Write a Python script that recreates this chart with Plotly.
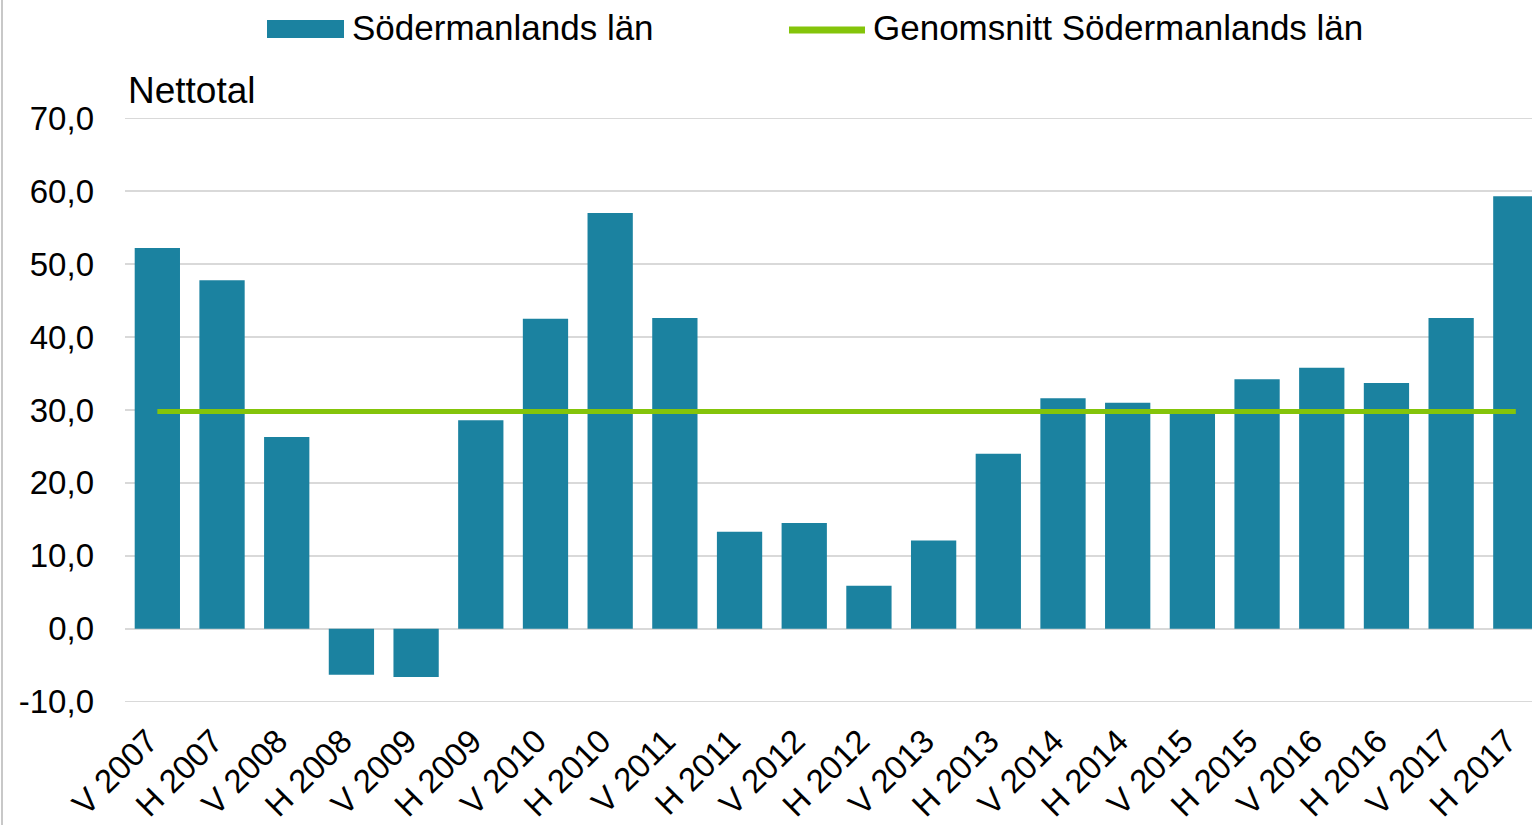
import plotly.graph_objects as go

categories = ["V 2007", "H 2007", "V 2008", "H 2008", "V 2009", "H 2009", "V 2010", "H 2010",
              "V 2011", "H 2011", "V 2012", "H 2012", "V 2013", "H 2013", "V 2014", "H 2014",
              "V 2015", "H 2015", "V 2016", "H 2016", "V 2017", "H 2017"]
values = [52.2, 47.8, 26.3, -6.3, -6.6, 28.6, 42.5, 57.0, 42.6, 13.3, 14.5, 5.9,
          12.1, 24.0, 31.6, 31.0, 29.6, 34.2, 35.8, 33.7, 42.6, 59.3]
average = [29.8] * len(categories)
y_ticks = [-10, 0, 10, 20, 30, 40, 50, 60, 70]
y_tick_labels = ["-10,0", "0,0", "10,0", "20,0", "30,0", "40,0", "50,0", "60,0", "70,0"]

BAR_COLOR = "#1B82A0"
LINE_COLOR = "#84C40A"
GRID = "#D9D9D9"
FONT = "Liberation Sans, Arial, sans-serif"

W, H = 1532, 825
L, R, T, B = 125, 0, 118, 123
PW = W - L - R
PH = H - T - B
Y_MIN, Y_MAX = y_ticks[0], y_ticks[-1]


def px_x(px):
    return (px - L) / PW


def px_y(py):
    return (H - B - py) / PH


fig = go.Figure()
fig.add_trace(go.Bar(x=categories, y=values, marker=dict(color=BAR_COLOR, line=dict(width=0)),
                     width=0.7, name="Södermanlands län", showlegend=False))
fig.add_trace(go.Scatter(x=categories, y=average, mode="lines",
                         line=dict(color=LINE_COLOR, width=5),
                         name="Genomsnitt Södermanlands län", showlegend=False))

fig.update_layout(
    width=W, height=H,
    margin=dict(l=L, r=R, t=T, b=B, pad=0),
    paper_bgcolor="white", plot_bgcolor="white",
    font=dict(family=FONT, size=33, color="#000000"),
    xaxis=dict(type="category", range=[-0.5, 21.25], tickangle=-45, showgrid=False,
               showline=False, ticks="", tickfont=dict(size=33), ticklabelstandoff=12,
               ticklabelshift=-9, zeroline=False),
    yaxis=dict(range=[Y_MIN - 0.04, Y_MAX + 0.04], tickvals=y_ticks, ticktext=y_tick_labels,
               showgrid=True, gridcolor=GRID, gridwidth=1.5, zeroline=True, zerolinecolor=GRID,
               zerolinewidth=1.5, showline=False, ticks="", tickfont=dict(size=33),
               ticklabelstandoff=30),
    showlegend=False,
)

shapes = [
    # left border
    dict(type="line", xref="paper", yref="paper", x0=px_x(2), x1=px_x(2), y0=px_y(0), y1=px_y(H),
         line=dict(color="#C8C8C8", width=2)),
    # edge gridlines (top and bottom of the value range)
    dict(type="line", xref="paper", yref="y", x0=0, x1=1, y0=Y_MAX, y1=Y_MAX, layer="below",
         line=dict(color=GRID, width=1.5)),
    dict(type="line", xref="paper", yref="y", x0=0, x1=1, y0=Y_MIN, y1=Y_MIN, layer="below",
         line=dict(color=GRID, width=1.5)),
    # legend symbols
    dict(type="rect", xref="paper", yref="paper", x0=px_x(267), x1=px_x(344), y0=px_y(38), y1=px_y(20),
         fillcolor=BAR_COLOR, line=dict(width=0)),
    dict(type="line", xref="paper", yref="paper", x0=px_x(789), x1=px_x(865), y0=px_y(30), y1=px_y(30),
         line=dict(color=LINE_COLOR, width=7)),
]
fig.update_layout(shapes=shapes)

fig.add_annotation(text="Södermanlands län", xref="paper", yref="paper", x=px_x(350), y=px_y(28),
                   xanchor="left", yanchor="middle", showarrow=False, font=dict(size=35))
fig.add_annotation(text="Genomsnitt Södermanlands län", xref="paper", yref="paper", x=px_x(871),
                   y=px_y(28), xanchor="left", yanchor="middle", showarrow=False, font=dict(size=35))
fig.add_annotation(text="Nettotal", xref="paper", yref="paper", x=px_x(126), y=px_y(91),
                   xanchor="left", yanchor="middle", showarrow=False, font=dict(size=37))

fig.write_html("out.html", config={"displayModeBar": False},
               post_script="document.body.style.margin='0px';")
